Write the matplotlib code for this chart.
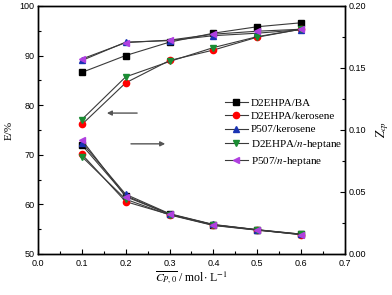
import matplotlib
matplotlib.use('Agg')
import matplotlib.pyplot as plt
from matplotlib.ticker import MultipleLocator, FormatStrFormatter

plt.rcParams['mathtext.fontset'] = 'stix'

conc = [0.1, 0.2, 0.3, 0.4, 0.5, 0.6]
labels = ['D2EHPA/BA', 'D2EHPA/kerosene', 'P507/kerosene',
          r'D2EHPA/$n$-heptane', r'P507/$n$-heptane']

# extraction efficiency E / %
e_ba = [86.6, 90.0, 92.7, 94.5, 95.8, 96.6]
e_ker = [76.1, 84.5, 89.0, 91.1, 93.7, 95.3]
e_p507_ker = [89.0, 92.7, 93.0, 94.0, 94.5, 95.2]
e_hep = [77.1, 85.7, 88.8, 91.6, 93.8, 95.3]
e_p507_hep = [89.3, 92.6, 93.1, 94.3, 94.9, 95.3]

# Z_cp
z_ba = [0.0879, 0.047, 0.0320, 0.0235, 0.0195, 0.0160]
z_ker = [0.0804, 0.0422, 0.0318, 0.0232, 0.0193, 0.0157]
z_p507_ker = [0.0898, 0.0481, 0.0325, 0.0238, 0.0196, 0.0160]
z_hep = [0.0785, 0.0441, 0.0315, 0.0230, 0.0192, 0.0158]
z_p507_hep = [0.0919, 0.0462, 0.0322, 0.0236, 0.0195, 0.0155]

e_series = [e_ba, e_ker, e_p507_ker, e_hep, e_p507_hep]
z_series = [z_ba, z_ker, z_p507_ker, z_hep, z_p507_hep]
markers = ['s', 'o', '^', 'v', '<']
colors = ['black', 'red', '#1a33b3', '#1a8c33', '#b040e0']

fig = plt.figure(figsize=(3.92, 2.95), dpi=100)
ax = fig.add_axes([0.097, 0.139, 0.783, 0.841])
ax2 = ax.twinx()

for e, z, m, c, lab in zip(e_series, z_series, markers, colors, labels):
    ax.plot(conc, e, color='#3a3a3a', lw=0.8, marker=m, ms=4.5,
            mfc=c, mec=c, label=lab)
    ax2.plot(conc, z, color='#3a3a3a', lw=0.8, marker=m, ms=4.5,
             mfc=c, mec=c)

ax.set_xlim(0.0, 0.7)
ax.set_ylim(50, 100)
ax2.set_ylim(0.0, 0.20)

ax.xaxis.set_major_locator(MultipleLocator(0.1))
ax.xaxis.set_minor_locator(MultipleLocator(0.05))
ax.yaxis.set_major_locator(MultipleLocator(10))
ax.yaxis.set_minor_locator(MultipleLocator(5))
ax2.yaxis.set_major_locator(MultipleLocator(0.05))
ax2.yaxis.set_minor_locator(MultipleLocator(0.025))

ax.tick_params(which='both', direction='in', top=False, right=False,
               labelsize=6.5, width=0.8)
ax.tick_params(axis='x', pad=3.5)
ax.tick_params(axis='y', pad=2.5)
ax.tick_params(which='major', length=3.5)
ax.tick_params(which='minor', length=2)
ax2.tick_params(which='both', direction='in', labelsize=6.5, width=0.8, pad=2.5)
ax2.tick_params(which='major', length=3.5)
ax2.tick_params(which='minor', length=2)
for a in (ax, ax2):
    for lab in a.get_xticklabels() + a.get_yticklabels():
        lab.set_family('Liberation Sans')
    for s in a.spines.values():
        s.set_linewidth(1.0)

ax.xaxis.set_major_formatter(FormatStrFormatter('%.1f'))
ax2.yaxis.set_major_formatter(FormatStrFormatter('%.2f'))

ax.set_xlabel(r'$\overline{C_{P,0}}$ / mol$\cdot$ L$^{-1}$',
              fontsize=8.5, family='Liberation Serif', labelpad=1)
ax.set_ylabel('E/%', fontsize=8, family='Liberation Serif', labelpad=4)
ax2.set_ylabel(r'$Z_{cp}$', fontsize=9, labelpad=6)

# arrows pointing to each axis
ax.annotate('', xy=(0.157, 78.4), xytext=(0.226, 78.4),
            arrowprops=dict(arrowstyle='-|>', color='#555555', lw=1.0,
                            mutation_scale=7, shrinkA=0, shrinkB=0))
ax.annotate('', xy=(0.290, 72.2), xytext=(0.212, 72.2),
            arrowprops=dict(arrowstyle='-|>', color='#555555', lw=1.0,
                            mutation_scale=7, shrinkA=0, shrinkB=0))

leg = ax.legend(loc='upper left', bbox_to_anchor=(0.585, 0.66), frameon=False,
                prop={'family': 'Liberation Serif', 'size': 8},
                handlelength=2.0, handletextpad=0.3, labelspacing=0.32,
                borderpad=0.2)

fig.savefig('out.png', dpi=100)
